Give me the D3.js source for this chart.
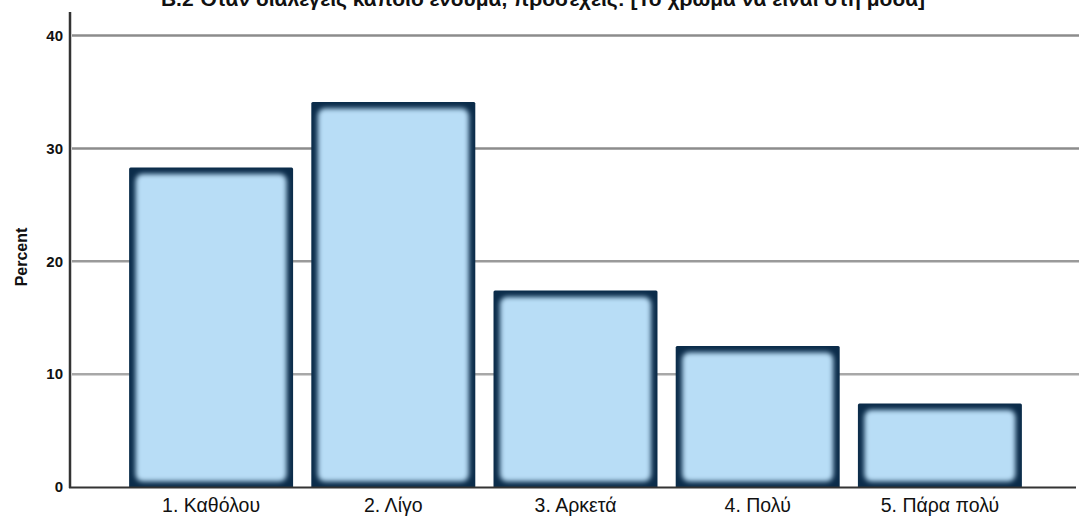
<!DOCTYPE html>
<html>
<head>
<meta charset="utf-8">
<script src="https://cdn.jsdelivr.net/npm/d3@7"></script>
<style>
  body { margin: 0; background: #fff; }
  svg { display: block; font-family: "Liberation Sans", Arial, sans-serif; }
</style>
</head>
<body>
<svg id="chart" width="1079" height="521"></svg>
<script>
// data
var categories = ["1. Καθόλου", "2. Λίγο", "3. Αρκετά", "4. Πολύ", "5. Πάρα πολύ"];
var percents = [28.3, 34.1, 17.4, 12.5, 7.4];
var yTicks = [0, 10, 20, 30, 40];
var title = "B.2 Όταν διαλέγεις κάποιο ένδυμα, προσέχεις: [Το χρώμα να είναι στη μόδα]";

var svg = d3.select("#chart");

var x = d3.scaleBand()
	.domain(categories)
	.range([120, 1031])
	.paddingInner(0.1)
	.paddingOuter(0.05);

var y = d3.scaleLinear()
	.domain([0, 40])
	.range([487, 35.5]);

var defs = svg.append("defs");
defs.append("filter")
	.attr("id", "soft")
	.attr("x", "-10%").attr("y", "-10%")
	.attr("width", "120%").attr("height", "120%")
	.append("feGaussianBlur")
	.attr("stdDeviation", 2.6);

// gridlines
var gridColor = { 10: "#a8a8a8", 20: "#9a9a9a", 30: "#8c8c8c", 40: "#8c8c8c" };
svg.append("g").selectAll("line")
	.data(yTicks.filter(function(d) { return d > 0; }))
	.join("line")
	.attr("x1", 72).attr("x2", 1079)
	.attr("y1", function(d) { return y(d); })
	.attr("y2", function(d) { return y(d); })
	.attr("stroke", function(d) { return gridColor[d]; })
	.attr("stroke-width", 2.5);

// bars
var bars = svg.append("g").selectAll("g")
	.data(percents)
	.join("g");

bars.each(function(d, i) {
	var g = d3.select(this);
	var bx = x(categories[i]), bw = x.bandwidth();
	var top = y(d), h = y(0) - y(d) + 1;
	var cid = "clip" + i;
	defs.append("clipPath").attr("id", cid)
		.append("rect")
		.attr("x", bx).attr("y", top).attr("width", bw).attr("height", h)
		.attr("rx", 1.5);
	g.append("rect")
		.attr("x", bx).attr("y", top)
		.attr("width", bw).attr("height", h)
		.attr("rx", 1.5)
		.attr("fill", "#0b2c4a");
	g.append("g")
		.attr("clip-path", "url(#" + cid + ")")
		.append("rect")
		.attr("x", bx + 6.5).attr("y", top + 6.5)
		.attr("width", bw - 13).attr("height", h - 13)
		.attr("rx", 7)
		.attr("fill", "#b8ddf6")
		.attr("filter", "url(#soft)");
});

// axes
var yAxis = d3.axisLeft(y).tickValues(yTicks).tickSize(0).tickPadding(7);
var gy = svg.append("g")
	.attr("transform", "translate(70,0)")
	.call(yAxis);
gy.select(".domain").remove();
gy.selectAll("text")
	.attr("font-size", 15)
	.attr("font-weight", "bold")
	.attr("fill", "#111")
	.attr("font-family", "Liberation Sans, Arial, sans-serif");

svg.append("line")
	.attr("x1", 70).attr("x2", 70)
	.attr("y1", 12).attr("y2", y(0) + 1)
	.attr("stroke", "#333").attr("stroke-width", 2.5);

svg.append("line")
	.attr("x1", 69).attr("x2", 1076)
	.attr("y1", y(0) + 0.5).attr("y2", y(0) + 0.5)
	.attr("stroke", "#333").attr("stroke-width", 2);

var xAxis = d3.axisBottom(x).tickSize(0).tickPadding(11);
var gx = svg.append("g")
	.attr("transform", "translate(0," + y(0) + ")")
	.call(xAxis);
gx.select(".domain").remove();
gx.selectAll("text")
	.attr("font-size", 19.5)
	.attr("fill", "#111")
	.attr("font-family", "Liberation Sans, Arial, sans-serif");

svg.append("text")
	.attr("transform", "translate(27,257) rotate(-90)")
	.attr("text-anchor", "middle")
	.attr("font-size", 16)
	.attr("font-weight", "bold")
	.attr("fill", "#111")
	.text("Percent");

svg.append("text")
	.attr("x", 543).attr("y", 6)
	.attr("text-anchor", "middle")
	.attr("font-size", 21)
	.attr("font-weight", "bold")
	.attr("fill", "#111")
	.text(title);
</script>
</body>
</html>
